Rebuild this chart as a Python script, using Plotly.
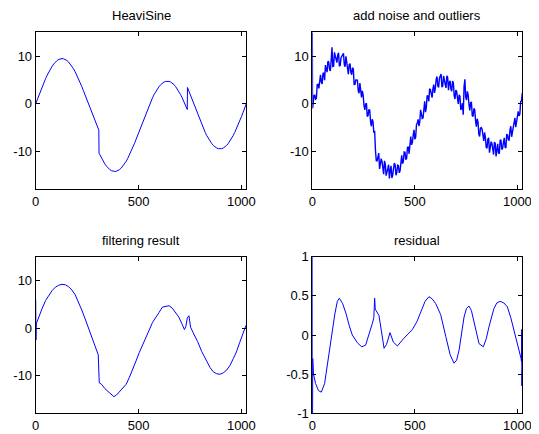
import plotly.graph_objects as go

# HeaviSine test signal (top-left panel)
clean_x = (list(range(0, 305, 8)) + [307, 308] + list(range(312, 737, 8))
           + [737, 738] + list(range(744, 1025, 8)))
clean_y = [0, 0.93, 1.85, 2.75, 3.63, 4.47, 5.27, 6.01, 6.70, 7.33, 7.88, 8.36, 8.76,
           9.07, 9.30, 9.43, 9.48, 9.43, 9.30, 9.07, 8.76, 8.36, 7.88, 7.33, 6.70, 6.01,
           5.27, 4.47, 3.63, 2.75, 1.85, 0.93, 0, -0.93, -1.85, -2.75, -3.63, -4.47, -5.27,
           -5.55, -10.39,
           -10.75, -11.44, -12.07, -12.62, -13.10, -13.50, -13.81, -14.04, -14.17, -14.22,
           -14.17, -14.04, -13.81, -13.50, -13.10, -12.62, -12.07, -11.44, -10.75, -10.01,
           -9.21, -8.37, -7.49, -6.59, -5.67, -4.74, -3.81, -2.89, -1.99, -1.11, -0.27,
           0.53, 1.27, 1.96, 2.59, 3.14, 3.62, 4.02, 4.33, 4.56, 4.69, 4.74, 4.69, 4.56,
           4.33, 4.02, 3.62, 3.14, 2.59, 1.96, 1.27, 0.53, -0.27, -1.11,
           -1.22, 3.41,
           2.75, 1.85, 0.93, 0, -0.93, -1.85, -2.75, -3.63, -4.47, -5.27, -6.01, -6.70,
           -7.33, -7.88, -8.36, -8.76, -9.07, -9.30, -9.43, -9.48, -9.43, -9.30, -9.07,
           -8.76, -8.36, -7.88, -7.33, -6.70, -6.01, -5.27, -4.47, -3.63, -2.75, -1.85,
           -0.93, 0]

# noisy signal with outliers (top-right panel): samples on multiples of 8 ...
noisy_x_a = [0, 1] + list(range(8, 1025, 8))
noisy_y_a = [15.0, -1.0,
             1.73, 0.95, 4.05, 3.23, 6.07, 4.17, 6.51, 8.10, 6.63, 8.78, 6.86, 11.86, 7.87, 9.90, 8.63, 10.68,
             8.03, 10.0, 10.57, 7.76, 8.66, 6.18, 8.43, 6.10, 7.31, 4.07, 4.87, 2.73, 4.35, 1.35, 1.83, -1.3,
             0.07, -2.45, -1.35, -4.73, -3.77, -5.67, -11.95, -10.54, -13.67, -11.52, -13.8, -12.0, -15.11, -13.64, -15.67, -13.02,
             -14.97, -12.44, -15.01, -12.9, -14.5, -11.62, -12.57, -10.14, -11.75, -9.21, -10.51, -6.87, -8.09, -5.49, -7.07, -4.04,
             -4.71, -1.29, -3.09, -0.61, -1.77, 1.73, 0.47, 2.96, 1.29, 4.04, 3.22, 5.72, 3.43, 6.06, 3.49, 5.84,
             4.09, 5.86, 2.83, 4.82, 2.62, 4.34, 0.99, 2.56, -0.03, 1.53, -0.97, -2.31, 5.15, 0.75, 1.83, -1.4,
             0.27, -2.65, -1.25, -4.83, -3.87, -6.87, -5.01, -7.2, -6.03, -9.18, -7.46, -10.26, -7.97, -10.0, -8.03, -11.08,
             -8.43, -10.5, -7.57, -9.36, -7.16, -9.28, -6.53, -7.7, -4.71, -5.77, -3.37, -4.93, -1.85, -2.55, 0.47, 2.3]
# ... and the samples in between
noisy_x_b = list(range(4, 1024, 8))
noisy_y_b = [-0.13, 1.79, 1.10, 4.09, 5.15, 4.57, 6.34, 4.96, 7.22, 8.91, 7.22, 9.06, 7.82, 10.79, 9.17, 10.26,
             7.96, 9.67, 10.19, 8.22, 9.96, 6.92, 8.21, 6.62, 7.56, 4.04, 4.97, 4.95, 2.19, 2.80, 2.69, -0.33,
             -0.07, -2.69, -1.20, -3.69, -3.25, -6.07, -9.79, -12.0, -10.36, -12.65, -12.16, -14.8, -12.66, -14.53, -12.81, -14.0,
             -15.6, -13.61, -12.83, -14.46, -13.0, -14.06, -10.85, -12.16, -10.2, -11.48, -9.01, -7.59, -8.63, -6.64, -7.43, -4.41,
             -3.28, -3.85, -2.14, -2.95, 0.51, -0.77, 1.60, 3.12, 1.68, 3.07, 2.28, 5.12, 3.78, 5.35, 6.23, 3.72,
             5.22, 3.33, 5.55, 4.48, 3.02, 4.78, 1.67, 2.88, 1.12, 1.90, -1.27, 0.11, 3.59, 1.40, 2.59, -0.13,
             0.23, -2.49, -1.0, -3.49, -3.15, -6.37, -5.14, -5.36, -7.82, -7.01, -9.32, -7.16, -9.32, -8.39, -10.67, -8.36,
             -9.26, -10.27, -7.69, -9.62, -8.16, -9.12, -6.41, -7.52, -5.46, -6.94, -4.27, -2.95, -3.39, -1.60, -2.19, 0.53]

# filtering result (bottom-left panel)
filt_x = [0, 1, 3, 8, 16, 32, 48, 64, 80, 96, 112, 128, 144, 160, 176, 192, 208, 224,
          240, 256, 272, 288, 298, 304, 309, 320, 336, 352, 368, 380, 392, 408, 424, 440,
          456, 472, 488, 504, 520, 536, 552, 568, 584, 600, 616, 632, 648, 664, 680, 696,
          710, 723, 730, 737, 745, 753, 766, 787, 807, 831, 848, 864, 880, 896, 912, 929,
          945, 961, 976, 992, 1004, 1012, 1018, 1022, 1023]
filt_y = [6.0, -2.5, 1.0, 1.5, 2.5, 4.2, 5.8, 7.0, 7.9, 8.6, 9.0, 9.2, 9.1, 8.7, 8.0, 7.0,
          5.5, 3.8, 2.0, 0.1, -1.9, -3.9, -4.8, -5.6, -11.5, -11.8, -12.7, -13.3, -14.0,
          -14.4, -14.1, -13.3, -12.6, -11.8, -10.3, -8.7, -6.9, -5.1, -3.4, -1.9, -0.4,
          1.2, 2.4, 3.3, 4.4, 4.6, 4.7, 4.2, 3.3, 2.3, 1.0, -0.3, 0.3, 2.1, 2.6, 0.2, -1.0,
          -2.8, -4.9, -7.1, -8.3, -9.2, -9.6, -9.7, -9.4, -8.8, -7.8, -6.4, -5.0, -3.0,
          -1.6, -0.8, 0.0, 0.5, 0.2]

# residual (bottom-right panel)
resid_x = [0, 1, 2, 6, 16, 30, 44, 60, 76, 94, 110, 122, 132, 148, 165, 180, 195, 220,
           241, 260, 277, 293, 300, 304, 307, 313, 325, 337, 350, 362, 379, 395, 415, 447,
           470, 488, 510, 529, 550, 569, 585, 602, 626, 651, 672, 691, 704, 716, 728, 740,
           752, 764, 776, 789, 801, 813, 834, 848, 862, 875, 886, 900, 916, 934, 951, 968,
           984, 1004, 1018, 1020, 1021, 1022, 1023]
resid_y = [1.5, -1.5, -0.3, -0.5, -0.62, -0.71, -0.73, -0.62, -0.32, 0.0, 0.27, 0.43, 0.47,
           0.40, 0.27, 0.12, 0.0, -0.10, -0.15, -0.13, 0.0, 0.15, 0.22, 0.47, 0.33, 0.30,
           0.25, 0.05, -0.17, -0.12, 0.03, -0.09, -0.14, -0.04, 0.02, 0.07, 0.17, 0.30,
           0.43, 0.49, 0.46, 0.40, 0.26, -0.02, -0.25, -0.36, -0.32, -0.19, 0.02, 0.23,
           0.34, 0.37, 0.31, 0.15, 0.01, -0.11, -0.15, -0.05, 0.11, 0.24, 0.34, 0.41, 0.43,
           0.41, 0.36, 0.22, 0.06, -0.15, -0.30, -0.34, 0.07, -0.65, -0.45]

titles = ["HeaviSine", "add noise and outliers", "filtering result", "residual"]

# merge the two sets of noisy samples in index order
noisy = sorted(zip(noisy_x_a + noisy_x_b, noisy_y_a + noisy_y_b))
noisy_x = [p[0] for p in noisy]
noisy_y = [p[1] for p in noisy]

# the page body has an 8px margin, so the figure starts 8px in from the corner
# and is sized to reach the right/bottom edges of the window
OFF = 8
W, H = 539 - OFF, 434 - OFF
FONT = "Liberation Sans, Arial, Helvetica, sans-serif"
BLUE = "#0000ff"


def px_x(v):
    return (v - OFF) / W


def px_y(v):
    return 1 - (v - OFF) / H


fig = go.Figure()
panels = [(clean_x, clean_y, 1), (noisy_x, noisy_y, 1.4), (filt_x, filt_y, 1),
          (resid_x, resid_y, 1)]
for k, (xs, ys, lw) in enumerate(panels):
    sfx = "" if k == 0 else str(k + 1)
    fig.add_trace(go.Scatter(x=xs, y=ys, mode="lines", xaxis="x" + sfx, yaxis="y" + sfx,
                             line=dict(color=BLUE, width=lw), showlegend=False,
                             hoverinfo="skip"))

xdom = [[px_x(35.7), px_x(246.3)], [px_x(312.3), px_x(522.3)]]
ydom = [[px_y(189.0), px_y(32.3)], [px_y(413.3), px_y(256.7)]]

axis_common = dict(showgrid=False, zeroline=False, showline=True, linecolor="black",
                   linewidth=1, mirror="ticks", ticks="inside", ticklen=4,
                   tickcolor="black", automargin=False,
                   tickfont=dict(family=FONT, size=13, color="black"))

layout = dict(width=W, height=H, margin=dict(l=0, r=0, t=0, b=0), autosize=False,
              paper_bgcolor="white", plot_bgcolor="white", annotations=[])
for k in range(4):
    row, col = divmod(k, 2)
    sfx = "" if k == 0 else str(k + 1)
    layout["xaxis" + sfx] = dict(axis_common, domain=xdom[col], range=[0, 1024],
                                 tickvals=[0, 500, 1000], anchor="y" + sfx)
    if k == 3:
        yr, yt, ytxt = [-1, 1], [-1, -0.5, 0, 0.5, 1], ["-1", "-0.5", "0", "0.5", "1"]
    else:
        yr, yt, ytxt = [-17.9, 15], [-10, 0, 10], ["-10", "0", "10"]
    layout["yaxis" + sfx] = dict(axis_common, domain=ydom[row], range=yr, tickvals=yt,
                                 ticktext=ytxt, anchor="x" + sfx)
    layout["annotations"].append(dict(
        text=titles[k], xref="paper", yref="paper", showarrow=False,
        x=sum(xdom[col]) / 2, y=px_y(15 if row == 0 else 240),
        xanchor="center", yanchor="middle",
        font=dict(family=FONT, size=13, color="black")))

fig.update_layout(**layout)
fig.write_html("out.html")
